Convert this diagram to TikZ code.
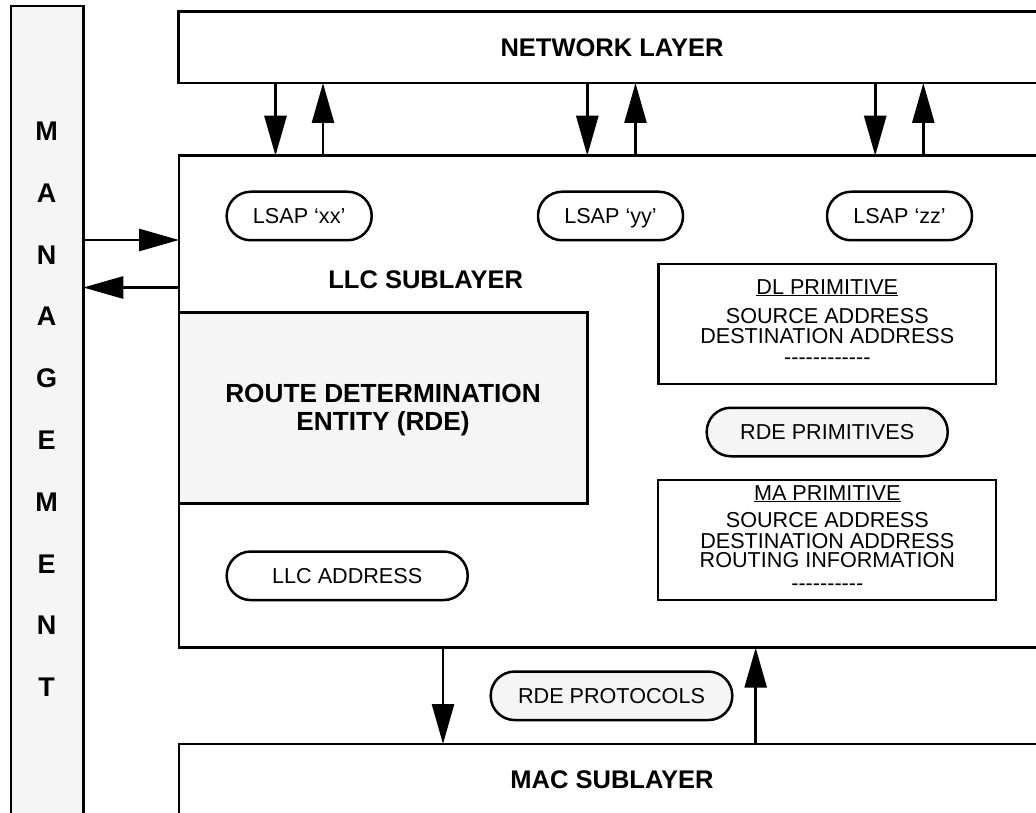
\documentclass[tikz,border=0pt]{standalone}
\usepackage{fontspec}
\setmainfont{Liberation Sans}
\usetikzlibrary{arrows.meta}
\definecolor{boxgray}{RGB}{245,245,245}
\newcommand\hy{\mbox{-}}
\begin{document}
\begin{tikzpicture}[x=1pt,y=-1pt,
  layer/.style={draw, line width=2.7pt, rectangle, inner sep=0pt, outer sep=0pt},
  pill/.style={draw, line width=2.5pt, rounded corners=24pt, inner sep=0pt, outer sep=0pt,
    minimum height=48.5pt, font=\fontsize{21.6pt}{22pt}\selectfont, text height=15.5pt, text depth=0pt},
  boldlbl/.style={font=\fontsize{25.5pt}{27pt}\selectfont\bfseries, inner sep=0pt, outer sep=0pt,
    text height=18.3pt, text depth=0pt},
  letter/.style={font=\fontsize{27pt}{27pt}\selectfont\bfseries, inner sep=0pt, outer sep=0pt,
    text height=19.4pt, text depth=0pt},
  rdelbl/.style={font=\fontsize{26.2pt}{27pt}\selectfont\bfseries, inner sep=0pt, anchor=base,
    text height=18.8pt, text depth=0pt},
  plain/.style={font=\fontsize{21.6pt}{22pt}\selectfont, inner sep=0pt, anchor=base,
    text height=15.5pt, text depth=0pt},
  arr/.style={line width=2.7pt, -{Triangle[width=22pt,length=40pt]}},
]
\useasboundingbox (0,0) rectangle (1036,813);
\clip (0,0) rectangle (1036,813);

% management bar
\node[layer, fill=boxgray, minimum width=72.3pt, minimum height=830pt] (mgmt) at (47.15,421) {};
\foreach \l [count=\i from 0] in {M,A,N,A,G,E,M,E,N,T}
  \node[letter] (m\i) at (46.7,130.7+61.8*\i) {\l};

% layers
\node[layer, minimum width=867pt, minimum height=71.3pt, font=\fontsize{25.5pt}{27pt}\selectfont\bfseries,
  text height=18.3pt, text depth=0pt] (net) at (612,47.35) {NETWORK LAYER};
\node[layer, minimum width=866pt, minimum height=492pt] (llc) at (612,401.7) {};
\node[layer, minimum width=866pt, minimum height=70.6pt, font=\fontsize{25.5pt}{27pt}\selectfont\bfseries,
  text height=18.3pt, text depth=0pt] (mac) at (612,779.3) {MAC SUBLAYER};

\node[boldlbl] (llclbl) at (425.7,279) {LLC SUBLAYER};

% RDE box
\node[layer, fill=boxgray, minimum width=408.3pt, minimum height=191pt] (rde) at (383.15,407.8) {};
\node[rdelbl] (rde1) at (383,402.7) {ROUTE DETERMINATION};
\node[rdelbl] (rde2) at (383,430.1) {ENTITY (RDE)};

% pills
\node[pill, minimum width=145pt] (xx) at (299.2,216) {LSAP ‘xx’};
\node[pill, minimum width=145pt] (yy) at (610.5,216) {LSAP ‘yy’};
\node[pill, minimum width=145pt] (zz) at (899.5,216) {LSAP ‘zz’};
\node[pill, minimum width=241pt] (llcaddr) at (347.2,575.8) {LLC ADDRESS};
\node[pill, fill=boxgray, minimum width=241pt] (rdeprim) at (827.2,432) {RDE PRIMITIVES};
\node[pill, fill=boxgray, minimum width=241.6pt] (rdeprot) at (611.5,695.8) {RDE PROTOCOLS};

% DL primitive box
\node[layer, minimum width=337.7pt, minimum height=120pt] (dl) at (827.15,324) {};
\node[plain] (dl1) at (827.3,294) {\underline{DL PRIMITIVE}};
\node[plain] (dl2) at (827.3,323) {SOURCE ADDRESS};
\node[plain] (dl3) at (827.3,343.6) {DESTINATION ADDRESS};
\node[plain] (dl4) at (827.3,364.1) {\hy\hy\hy\hy\hy\hy\hy\hy\hy\hy\hy\hy};

% MA primitive box
\node[layer, minimum width=338pt, minimum height=120pt] (ma) at (827,540) {};
\node[plain] (ma1) at (827.3,500) {\underline{MA PRIMITIVE}};
\node[plain] (ma2) at (827.3,527.8) {SOURCE ADDRESS};
\node[plain] (ma3) at (827.3,548.6) {DESTINATION ADDRESS};
\node[plain] (ma4) at (827.3,567.6) {ROUTING INFORMATION};
\node[plain] (ma5) at (827.3,590.8) {\hy\hy\hy\hy\hy\hy\hy\hy\hy\hy};

% arrow columns
\coordinate (c1) at (275.5,0);
\coordinate (c2) at (323,0);
\coordinate (c3) at (587.3,0);
\coordinate (c4) at (635.5,0);
\coordinate (c5) at (875.2,0);
\coordinate (c6) at (923.3,0);
\coordinate (c7) at (443,0);
\coordinate (c8) at (755.7,0);
\coordinate (r1) at (0,240);
\coordinate (r2) at (0,287.5);

\draw[arr] (c1 |- net.south) -- (c1 |- llc.north);
\draw[arr] (c2 |- llc.north) -- (c2 |- net.south);
\draw[arr] (c3 |- net.south) -- (c3 |- llc.north);
\draw[arr] (c4 |- llc.north) -- (c4 |- net.south);
\draw[arr] (c5 |- net.south) -- (c5 |- llc.north);
\draw[arr] (c6 |- llc.north) -- (c6 |- net.south);
\draw[arr] (c7 |- llc.south) -- (c7 |- mac.north);
\draw[arr] (c8 |- mac.north) -- (c8 |- llc.south);
\draw[arr] (mgmt.east |- r1) -- (llc.west |- r1);
\draw[arr] (llc.west |- r2) -- (mgmt.east |- r2);
\end{tikzpicture}
\end{document}
